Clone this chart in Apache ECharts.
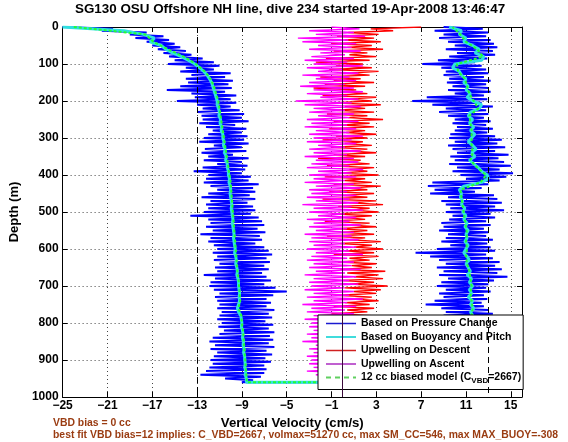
<!DOCTYPE html>
<html><head><meta charset="utf-8">
<script src="https://cdn.jsdelivr.net/npm/echarts@6/dist/echarts.min.js"></script>
<style>html,body{margin:0;padding:0;background:#fff}#c{width:568px;height:442px}</style>
</head><body><div id="c"></div>
<script>
// ---- sampling depths (m) ----
const depth5 = [
0,5,10,15,20,25,30,35,40,45, 50,55,60,65,70,75,80,85,90,95,
100,105,110,115,120,125,130,135,140,145, 150,155,160,165,170,175,180,185,190,195,
200,205,210,215,220,225,230,235,240,245, 250,255,260,265,270,275,280,285,290,295,
300,305,310,315,320,325,330,335,340,345, 350,355,360,365,370,375,380,385,390,395,
400,405,410,415,420,425,430,435,440,445, 450,455,460,465,470,475,480,485,490,495,
500,505,510,515,520,525,530,535,540,545, 550,555,560,565,570,575,580,585,590,595,
600,605,610,615,620,625,630,635,640,645, 650,655,660,665,670,675,680,685,690,695,
700,705,710,715,720,725,730,735,740,745, 750,755,760,765,770,775,780,785,790,795,
800,805,810,815,820,825,830,835,840,845, 850,855,860,865,870,875,880,885,890,895,
900,905,910,915,920,925,930,935,940,945, 950,955,960];
const depth10 = [0,10,20,30,40,50,60,70,80,90, 100,110,120,130,140,150,160,170,180,190,
200,210,220,230,240,250,260,270,280,290, 300,310,320,330,340,350,360,370,380,390,
400,410,420,430,440,450,460,470,480,490, 500,510,520,530,540,550,560,570,580,590,
600,610,620,630,640,650,660,670,680,690, 700,710,720,730,740,750,760,770,780,790,
800,810,820,830,840,850,860,870,880,890, 900,910,920,930,940,950,960];
const depth20 = [0,20,40,60,80,100,120,140,160,180, 200,220,240,260,280,300,320,340,360,380,
400,420,440,460,480,500,520,540,560,580, 600,620,640,660,680,700,720,740,760,780,
800,820,840,860,880,900,920,940,960];

// ---- vertical velocity (cm/s) from pressure change, descent (depth5) ----
const pressureDown = [
-25,-20.5,-21.5,-17.5,-19,-16,-18.5,-15.5,-17.5,-15,
-17,-14.5,-16.5,-14,-16,-13.5,-15.5,-12.5,-15,-11.5,
-15.6,-11,-14,-11.5,-14.5,-10,-13.5,-10.5,-14,-9.8,
-13.8,-10.2,-14.5,-9.9,-15.7,-10.5,-13.5,-9.5,-13.2,-10,
-14.8,-9.5,-13,-10,-12.5,-9.2,-13,-8.8,-12.6,-9,
-12.5,-8.4,-12.8,-9.6,-12.2,-8.6,-11.6,-9,-12,-8.5,
-12.4,-8.8,-12.8,-8.4,-11.5,-9,-12.3,-8.6,-12.6,-9.8,
-12,-8.4,-12.4,-9,-11.2,-8.5,-12.5,-8.7,-13.3,-9,
-12,-8.2,-12.2,-8.4,-12.4,-7.5,-11.8,-8,-11.2,-7.8,
-12,-8.3,-12.6,-7.8,-11.8,-8.5,-12.2,-8,-12,-7.8,
-12.4,-8.2,-13.6,-7.5,-12,-7.2,-11.8,-7,-12.2,-7.6,
-11.6,-6.9,-12.7,-7.4,-11.8,-7.2,-12,-7.8,-11.5,-7,
-11.2,-6.6,-11.6,-6.3,-11.2,-6.8,-11.5,-6.5,-11,-7,
-11.4,-6.6,-11.2,-7.2,-12.4,-6.8,-11.4,-6.4,-11.8,-7,
-11.9,-6,-11.5,-5,-11,-6.2,-11.4,-6.8,-11.2,-6.4,
-11,-6.8,-11.2,-6.1,-10.8,-6.6,-11,-6.3,-11.2,-6.9,
-10.8,-6.2,-11.1,-6.6,-10.6,-6.1,-11,-6.5,-11.6,-6.2,
-11.9,-6.6,-11.4,-6.1,-11.8,-6.8,-11.2,-6.3,-11.5,-6.9,
-11.8,-6.4,-11.6,-7,-11.9,-6.8,-12.2,-7,-12.7,-7.3,
-10.5,-8,-9];
// ---- vertical velocity from pressure change, ascent (depth5) ----
const pressureUp = [
9,12.5,8.2,13,9,12.8,8.6,13.2,9.4,13.5,
10,13.8,9.2,13.4,10.2,13.6,9.5,12.9,8.5,11.8,
7.1,12.4,8.8,12.8,9.2,13,9,12.6,9.5,13.2,
9.3,12.8,9.8,13,9.4,13.2,10,12.6,7.5,12.9,
6.2,12.4,8,13.4,9.2,12.8,8.6,13,9.4,12.6,
10,13.2,9.8,12.8,10.2,13.4,10,12.9,9.6,13.6,
9.5,14.2,10,13.8,9.4,14.5,9.8,13.6,10.2,14.8,
9.6,13.9,10,14.4,9.5,15,10.2,14,9.8,15.2,
10.5,14.6,11,14,8,13,7.6,12.4,8.2,11.8,
7.8,13.5,9.4,13.8,8.8,14.2,9.2,13.6,9.6,14.4,
9.2,13.2,9.8,13.6,9.5,12.8,8.8,13.2,9,12.6,
8.6,13,9.4,12.8,9.2,13.4,8.8,12.9,9.6,13.2,
8.4,13.6,6.5,12.8,7.8,13.4,8.6,14,9.2,13.6,
8.4,14.2,9,13.8,8.6,14.7,9.4,13.5,8.8,13,
8.4,12.8,9.2,13.2,8.6,12.6,9,12.9,8.2,12.4,
7.4,12.6,8.8,13,9.2,13.4,9,12.8,9.5,13.6,
9.1,13,9.6,13.8,9.2,13.3,9.8,13.5,9.4,13.9,
9.7,13.2,9.3,13.6,9.8,13.1,9.5,13.7,9.9,13.3,
9.4,13.5,9.6,13,9.8,13.4,9.5,12.8,10,12.6,
10.4,11.8,11];
// ---- based on buoyancy and pitch (depth10) ----
const buoyDown = [
-25,-19.5,-17.8,-16.8,-17.2,-16.2,-15.8,-15.2,-14.4,-13.8,
-13.2,-12.8,-12.4,-12.1,-11.9,-11.7,-11.6,-11.5,-11.4,-11.3,
-11.2,-11.2,-11.1,-11,-11.05,-10.9,-10.95,-10.8,-10.85,-10.7,
-10.7,-10.6,-10.65,-10.5,-10.55,-10.4,-10.45,-10.3,-10.3,-10.2,
-10.2,-10.1,-10.15,-10.05,-10,-10.05,-10,-9.95,-9.9,-9.95,
-9.9,-9.85,-9.8,-9.85,-9.8,-9.75,-9.7,-9.75,-9.7,-9.65,
-9.6,-9.65,-9.55,-9.5,-9.55,-9.45,-9.4,-9.45,-9.35,-9.3,
-9.3,-9.25,-9.2,-9.25,-9.2,-9.3,-9.4,-9.3,-9.1,-9.05,
-9,-9.05,-8.95,-8.9,-8.95,-8.85,-8.9,-8.8,-8.85,-8.75,
-8.75,-8.7,-8.75,-8.65,-8.7,-8.6,-8.6];
const buoyUp = [
9.5,10.6,10.4,11,10.8,11.6,12.2,11.8,12.6,12.4,
10,9.8,10.4,10.6,11,10.8,11.2,11,11.4,11.1,
11.6,12.4,12.2,11.4,11.2,11.6,11.3,11.7,11.4,11.8,
11.5,11.2,11.6,11.9,11.5,11.8,11.3,11.7,12.1,12.4,
12.9,13,12.4,10.8,10.4,10.6,10.5,10.7,10.6,10.9,
10.7,11,10.8,11.1,10.9,11.2,11,11.1,10.9,11.2,
11,10.8,11.1,11.3,11,11.2,11.4,11.1,11.5,11.3,
11.6,11.3,11.5,11.2,11.6,11.4,11.7,11.4,11.6,11.3,
11.5,11.4,11.6,11.3,11.5,11.4,11.6,11.3,11.5,11.4,
11.6,11.3,11.5,11.4,11.3,11.2,11];
// ---- 12 cc biased model (depth20) ----
const modelDown = [
-24,-17.6,-16.9,-15.6,-14.2,-13.1,-12.3,-11.8,-11.5,-11.3,
-11.1,-11,-10.9,-10.8,-10.7,-10.6,-10.5,-10.4,-10.3,-10.2,
-10.1,-10,-9.95,-9.9,-9.85,-9.8,-9.75,-9.7,-9.65,-9.6,
-9.55,-9.5,-9.45,-9.4,-9.3,-9.25,-9.2,-9.15,-9.3,-9.05,
-9,-8.9,-8.85,-8.8,-8.75,-8.7,-8.65,-8.6,-8.55];
const modelUp = [
9.8,10.5,11,12,12.5,10.2,10.3,10.9,11.1,11.3,
11.7,12.1,11.3,11.4,11.5,11.5,11.5,11.6,11.4,12,
12.8,12.3,10.5,10.6,10.7,10.8,10.9,11,11.1,11,
11.1,11,11.1,11.3,11.4,11.5,11.4,11.5,11.6,11.5,
11.5,11.5,11.4,11.5,11.4,11.5,11.4,11.3,11];
// ---- upwelling on descent (depth5) ----
const upwellDescent = [
7,2.5,4.5,0.5,3.2,-0.5,2.8,0.2,3.4,-1,
2.6,0.4,3.6,-0.8,2.2,0.6,3,-1.5,2.4,-2.4,
1.8,-0.6,2.6,-1.2,3.2,0.3,2.4,-2,1.6,-0.8,
2.8,-1.6,2,-2.6,1.2,0,2.2,-1.8,3,0.4,
2.6,-1,3.4,0.2,2,-0.6,2.8,-1.4,2.2,0.5,
3.6,-0.8,2.4,0,2.8,-1.2,2,0.3,3,-0.6,
2.2,-1.8,1.8,0.2,2.6,-1,2.2,0.4,3,-0.8,
2,-2.2,1.6,0,2.4,-1.4,2.8,0.6,2.2,-0.4,
3.2,-1.6,2,0.2,2.6,-0.8,3.4,0.4,2.2,-1.2,
2.8,0,2.2,-1.8,3,0.6,3.6,-0.4,2.4,0.8,
3.2,-1,2.6,0.2,2,-1.6,2.4,0.4,3,-0.6,
2.2,0,2.8,-1.4,2,0.6,3.4,-0.2,2.6,1,
3.6,0.2,2.8,-0.8,3.2,0.6,2.4,-0.4,3,0.8,
2.6,-0.2,3.8,0.4,3.2,1,3.6,0,2.8,0.6,
4,0.2,3.4,1,3,-0.4,2.6,0.8,3.2,0.2,
2.4,-0.8,2.8,0.4,2.2,-1,2.6,0,3,-0.6,
2.4,0.4,2.8,-1.2,2.2,0.2,3,-0.4,2.6,0.6,
2.2,-0.8,2.8,0,2.4,-1,3.2,0.4,2.6,-0.2,
2,0.8,2.8,-0.6,2.4,0.2,3,-0.4,2.2,0.6,
1.4,0.2,0.8];
// ---- upwelling on ascent (depth5) ----
const upwellAscent = [
-1,1.5,-3,1,-2.4,2,-4,0.5,-3.6,1.2,
-2.2,0.8,-3,1.6,-2,0.2,-2.8,1,-3.4,0.4,
-2.6,1.8,-3.2,0,-2.2,1.4,-3.6,0.6,-2.4,1.2,
-3,0.2,-3.8,1,-2.6,1.8,-3.2,0.4,-2,1.4,
-4.2,0.8,-3.4,1.6,-2.6,0.2,-3,1,-2.2,0.6,
-3.2,1.4,-2.8,0.4,-3.4,1.2,-2.4,0.6,-3,1.8,
-2.6,0.8,-3.2,1.2,-2.2,0.2,-3,1.6,-2.6,0.4,
-3.4,1,-2.4,1.4,-2.8,0.6,-3.2,1.8,-2.2,0.8,
-3,1.2,-2.6,0.2,-3.4,1,-2.4,1.6,-3,0.4,
-2.8,1.2,-3.2,0.6,-2.4,1.4,-3.6,0.8,-2.6,1.8,
-3,0.2,-2.2,1.2,-3.2,0.6,-2.6,1.6,-3,0.4,
-2.4,1,-3.4,0.8,-2.8,1.4,-3,0.2,-2.6,1.2,
-3.2,0.6,-2.4,1.8,-2.8,0.4,-3.2,1,-2.6,0.8,
-3,1.6,-2.4,0.2,-3.4,1.2,-2.6,0.6,-3,1.4,
-2.8,0.2,-3.4,1,-2.6,0.6,-3.2,1.8,-2.6,0.4,
-3.6,1.2,-2.8,0.2,-3.2,1,-2.6,0.6,-3.4,1.2,
-2.8,0.4,-3,1.4,-2.6,0.2,-3.2,1,-2.8,0.6,
-3.6,1.2,-2.4,0.4,-3,1,-2.6,0.2,-3.2,1.4,
-2.8,0.6,-3,1,-2.6,0.4,-3.2,0.8,-2.4,0.2,
-1.6,0.4,-0.6];
// reference lines
const vbdLimits = [-13, 13];
const zeroLine = [0];

const names = ['Based on Pressure Change','Based on Buoyancy and Pitch','Upwelling on Descent','Upwelling on Ascent','12 cc biased model (C_VBD=2667)'];
const titleText = 'SG130 OSU Offshore NH line, dive 234 started 19-Apr-2008 13:46:47';
const note1 = 'VBD bias = 0 cc';
const note2 = 'best fit VBD bias=12 implies: C_VBD=2667, volmax=51270 cc, max SM_CC=546, max MAX_BUOY=-308';

function pairs(vals, depths){ return vals.map((v,i)=>[v, depths[i]]); }
function dive(down, up, depths){ return pairs(down, depths).concat(pairs(up, depths).reverse()); }

const FONT = '"Liberation Sans", Arial, Helvetica, sans-serif';
const chart = echarts.init(document.getElementById('c'), null, {renderer:'canvas'});
const minus = v => v < 0 ? '\u2212' + Math.abs(v) : String(v);

const axisCommon = {
  axisLine:{show:true, onZero:false, lineStyle:{color:'#000', width:1}},
  axisTick:{show:true, inside:true, length:5, lineStyle:{color:'#000'}},
};
const hideSym = {color:'rgba(0,0,0,0)', borderWidth:0, opacity:0};

chart.setOption({
  animation:false,
  backgroundColor:'#fff',
  textStyle:{fontFamily:FONT},
  grid:{left:53, top:27, right:46, bottom:45, show:false},
  xAxis:[
    Object.assign({type:'value', min:-25, max:16, interval:4, position:'bottom',
      name:'Vertical Velocity (cm/s)', nameLocation:'middle', nameGap:20,
      nameTextStyle:{fontFamily:FONT, fontWeight:'bold', fontSize:13.2, color:'#000'},
      axisLabel:{show:true, fontFamily:FONT, fontWeight:'bold', fontSize:12, color:'#000', margin:3, showMaxLabel:false,
        formatter: v => v > 15 ? '' : minus(v)},
      splitLine:{show:true, lineStyle:{color:'#444', type:[1,3], width:1}}}, axisCommon),
    Object.assign({type:'value', min:-25, max:16, interval:4, position:'top',
      axisLabel:{show:false}, splitLine:{show:false}}, axisCommon)
  ],
  yAxis:[
    Object.assign({type:'value', inverse:true, min:0, max:1000, interval:100, position:'left',
      name:'Depth (m)', nameLocation:'middle', nameGap:24, nameRotate:90,
      nameTextStyle:{fontFamily:FONT, fontWeight:'bold', fontSize:13, color:'#000'},
      axisLabel:{show:true, fontFamily:FONT, fontWeight:'bold', fontSize:12, color:'#000', margin:4,
        formatter: v => String(v)},
      splitLine:{show:true, lineStyle:{color:'#444', type:[1,3], width:1}}}, axisCommon),
    Object.assign({type:'value', inverse:true, min:0, max:1000, interval:100, position:'right',
      axisLabel:{show:false}, splitLine:{show:false}}, axisCommon)
  ],
  legend:{
    orient:'vertical', left:318, top:315,
    backgroundColor:'#fff', borderColor:'#000', borderWidth:1,
    padding:[3, 2, 5, 7], itemGap:2.5, itemWidth:30, itemHeight:12,
    textStyle:{fontFamily:FONT, fontWeight:'bold', fontSize:10.5, color:'#000',
      rich:{sub:{fontFamily:FONT, fontWeight:'bold', fontSize:8, color:'#000', padding:[6,0,0,0]}}},
    formatter: n => n === names[4] ? '12 cc biased model (C{sub|VBD}=2667)' : n,
    data:[
      {name:names[0], itemStyle:hideSym, lineStyle:{color:'#1a1ad0', width:1.5}},
      {name:names[1], itemStyle:hideSym, lineStyle:{color:'#40dcdc', width:2}},
      {name:names[2], itemStyle:hideSym, lineStyle:{color:'#d02020', width:1.5}},
      {name:names[3], itemStyle:hideSym, lineStyle:{color:'#c060d0', width:2}},
      {name:names[4], itemStyle:hideSym, lineStyle:{color:'#60d060', width:2, type:[5,4]}}
    ]
  },
  graphic:[
    {type:'text', left:75, top:3, style:{text:titleText, font:'bold 13.4px '+FONT, fill:'#000'}},
    {type:'text', left:53, top:418, style:{text:note1, font:'bold 10.4px '+FONT, fill:'#9a3c12'}},
    {type:'text', left:53, top:430, style:{text:note2, font:'bold 10.4px '+FONT, fill:'#9a3c12'}}
  ],
  series:[
    {name:names[0], type:'line', symbol:'none', data:dive(pressureDown, pressureUp, depth5),
     lineStyle:{color:'#0000ff', width:2}, itemStyle:{color:'#0000ff'}, z:2},
    {name:names[1], type:'line', symbol:'none', data:dive(buoyDown, buoyUp, depth10),
     lineStyle:{color:'#30e0e0', width:3}, itemStyle:{color:'#30e0e0'}, z:3},
    {name:names[2], type:'line', symbol:'none', data:pairs(upwellDescent, depth5),
     lineStyle:{color:'#ff0000', width:1.4}, itemStyle:{color:'#ff0000'}, z:2},
    {name:names[3], type:'line', symbol:'none', data:pairs(upwellAscent, depth5),
     lineStyle:{color:'#ff00ff', width:1.4}, itemStyle:{color:'#ff00ff'}, z:2},
    {name:names[4], type:'line', symbol:'none', data:dive(modelDown, modelUp, depth20),
     lineStyle:{color:'#22ff33', width:2, type:[3,2]}, itemStyle:{color:'#22ff33'}, z:3},
    {name:'refs', type:'line', data:[], z:4,
     markLine:{silent:true, symbol:['none','none'], label:{show:false}, animation:false,
       data: vbdLimits.map(v => ({xAxis:v, lineStyle:{color:'#000', type:[6,4], width:1}}))
         .concat(zeroLine.map(v => ({xAxis:v, lineStyle:{color:'#3a0a3a', type:'solid', width:1}})))}}
  ]
});
</script></body></html>
